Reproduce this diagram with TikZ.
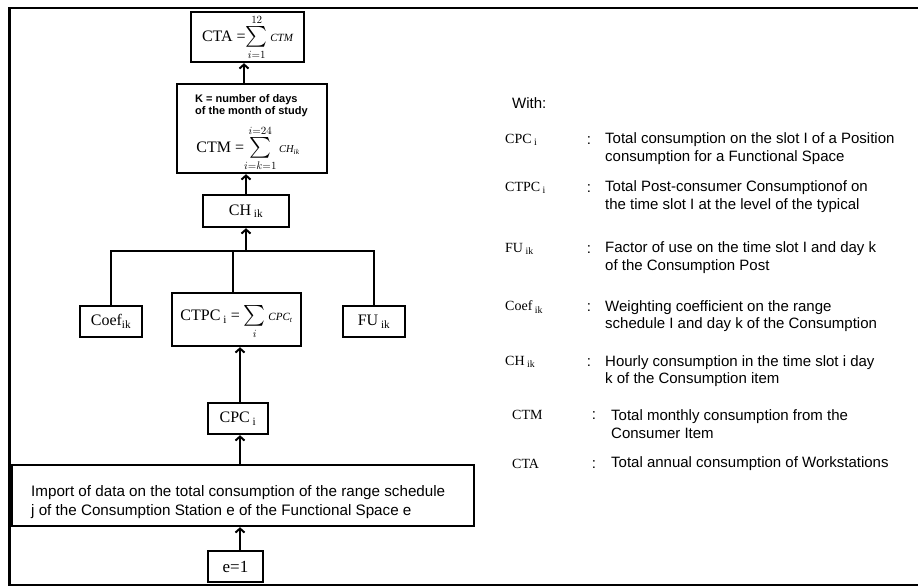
\documentclass[tikz,border=0pt]{standalone}
\usepackage{exscale}
\usepackage{fontspec}
\setmainfont{Liberation Serif}
\setsansfont{Liberation Sans}
\usetikzlibrary{arrows.meta}
\newcommand{\sbx}[1]{\textsubscript{#1}}
\newcommand{\bigsum}[2]{\mathop{\vcenter{\hbox{\fontsize{20}{20}\selectfont$\textstyle\sum$}}}\limits_{\rule{0pt}{7pt}#1}^{#2\rule[-2pt]{0pt}{0pt}}}
\tikzset{
  box/.style={draw, line width=2.4pt, inner sep=0pt, align=center, font=\fontsize{16}{18}\selectfont},
  link/.style={line width=2.4pt},
  arr/.style={line width=2.4pt, -{Straight Barb[length=4pt,width=9pt,line width=2pt]}},
  sym/.style={anchor=west, inner sep=0pt, font=\fontsize{14}{16}\selectfont},
  colon/.style={anchor=center, inner sep=0pt, font=\sffamily\fontsize{15}{16}\selectfont},
  desc/.style={anchor=west, inner sep=0pt, align=left, font=\sffamily\fontsize{15}{17.5}\selectfont},
}
\begin{document}
\begin{tikzpicture}[x=1pt,y=-1pt]
\useasboundingbox (0,0) rectangle (918,587);
% outer frame
\draw[line width=2.4pt] (918,8) -- (9.5,8) -- (9.5,585) -- (918,585);

% boxes
\node[box, minimum width=113pt, minimum height=50pt] (cta) at (247.5,37)
  {CTA =$\displaystyle\bigsum{i=1}{12}$\,{\fontsize{11}{12}\selectfont\itshape CTM}};
\node[box, minimum width=150pt, minimum height=89pt] (k) at (252,128.5) {};
\node[anchor=north west, inner sep=0pt, align=left, font=\sffamily\bfseries\fontsize{11}{12}\selectfont] (ktxt) at (195,94)
  {K = number of days\\of the month of study};
\node[inner sep=0pt, font=\fontsize{16}{18}\selectfont] (ctm) at (248,148)
  {CTM =$\displaystyle\bigsum{i=k=1}{i=24}$\,{\fontsize{10.5}{12}\selectfont\itshape CH\textsubscript{ik}}};
\node[box, minimum width=86pt, minimum height=32pt] (ch) at (246,211) {CH\sbx{ ik}};
\node[box, minimum width=62pt, minimum height=31pt] (coef) at (111,321.5) {Coef\sbx{ik}};
\node[box, minimum width=129pt, minimum height=53pt] (ctpc) at (236.5,319.5)
  {CTPC\sbx{ i} = $\displaystyle\bigsum{i}{}$\,{\fontsize{11}{12}\selectfont\itshape CPC\textsubscript{\itshape t}}};
\node[box, minimum width=62pt, minimum height=31pt] (fu) at (374,321.5) {FU\sbx{ ik}};
\node[box, minimum width=60pt, minimum height=31pt] (cpc) at (238,418.5) {CPC\sbx{ i}};
\node[box, minimum width=462pt, minimum height=61pt] (imp) at (243,495.5) {};
\node[anchor=west, inner sep=0pt, align=left, font=\sffamily\fontsize{15.2}{18.5}\selectfont] (imptxt) at (31,502)
  {Import of data on the total consumption of the range schedule\\j of the Consumption Station e of the Functional Space e};
\node[box, minimum width=55pt, minimum height=31pt, font=\fontsize{17}{18}\selectfont] (e1) at (235.5,566.5) {e=1};

% connectors
\draw[arr] (e1.north -| 240,0) -- (imp.south -| 240,0);
\draw[arr] (imp.north -| 240,0) -- (cpc.south -| 240,0);
\draw[arr] (cpc.north -| 240,0) -- (ctpc.south -| 240,0);
\coordinate (join) at (246,251);
\draw[link] (coef.north) |- (join) -| (fu.north);
\draw[link] (ctpc.north -| 233,0) -- (join -| 233,0);
\draw[arr] (join) -- (ch.south -| join);
\draw[arr] (ch.north) -- (k.south -| ch.north);
\draw[arr] (k.north -| 244,0) -- (cta.south -| 244,0);

% legend
\node[anchor=west, inner sep=0pt, font=\sffamily\fontsize{15}{16}\selectfont] (with) at (512,103) {With:};

\node[sym] (s1) at (505,140) {CPC\sbx{ i}};
\node[colon] (c1) at (589,141) {:};
\node[desc] (d1) at (605,148.5) {Total consumption on the slot I of a Position\\consumption for a Functional Space};

\node[sym] (s2) at (505,188) {CTPC\sbx{ i}};
\node[colon] (c2) at (589,189) {:};
\node[desc] (d2) at (605,196.5) {Total Post-consumer Consumptionof on\\the time slot I at the level of the typical};

\node[sym] (s3) at (505,249) {FU\sbx{ ik}};
\node[colon] (c3) at (589,250) {:};
\node[desc] (d3) at (605,257.5) {Factor of use on the time slot I and day k\\of the Consumption Post};

\node[sym] (s4) at (505,307) {Coef\sbx{ ik}};
\node[colon] (c4) at (589,308) {:};
\node[desc] (d4) at (605,316) {Weighting coefficient on the range\\schedule I and day k of the Consumption};

\node[sym] (s5) at (505,362) {CH\sbx{ ik}};
\node[colon] (c5) at (589,363) {:};
\node[desc] (d5) at (605,371) {Hourly consumption in the time slot i day\\k of the Consumption item};

\node[sym] (s6) at (512,415) {CTM};
\node[colon] (c6) at (594,416) {:};
\node[desc] (d6) at (611,424) {Total monthly consumption from the\\Consumer Item};

\node[sym] (s7) at (512,464) {CTA};
\node[colon] (c7) at (594,465) {:};
\node[desc] (d7) at (611,464) {Total annual consumption of Workstations};
\end{tikzpicture}
\end{document}
